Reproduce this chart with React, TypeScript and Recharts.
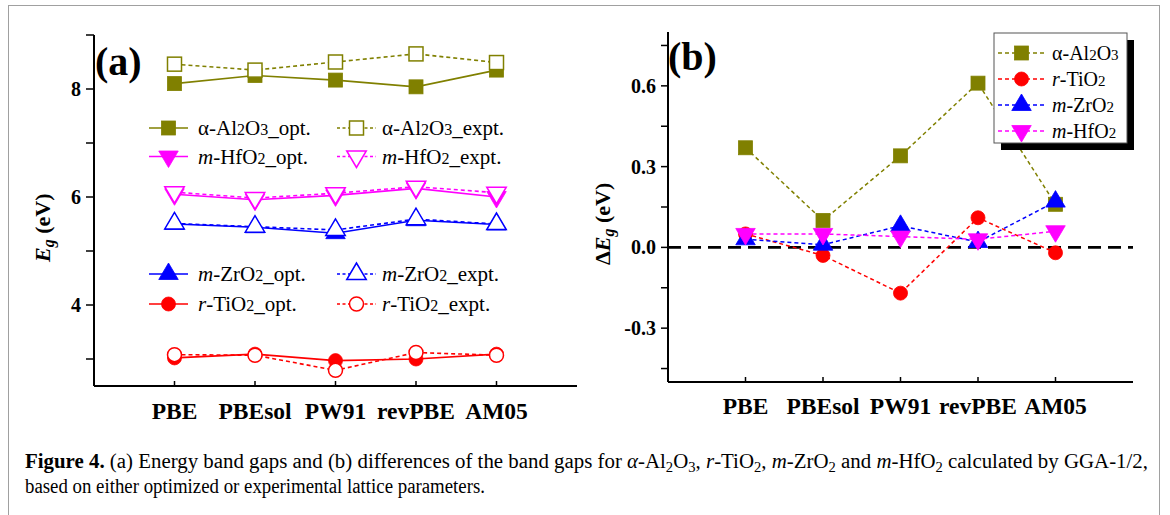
import React from 'react';
import { LineChart, Line, XAxis, YAxis, ReferenceLine, Legend } from 'recharts';

const FONT = '"Liberation Serif", "Times New Roman", serif';
const OLIVE = '#808000';
const MAGENTA = '#ff00ff';
const BLUE = '#0000ff';
const RED = '#ff0000';

// ---------- data ----------
const categories = ['PBE', 'PBEsol', 'PW91', 'revPBE', 'AM05'];
const xPositions = [1, 2, 3, 4, 5];

const al2o3Opt = [8.1, 8.25, 8.165, 8.04, 8.35];
const al2o3Expt = [8.46, 8.35, 8.5, 8.65, 8.49];
const hfo2Opt = [6.05, 5.95, 6.03, 6.16, 6.0];
const hfo2Expt = [6.09, 5.98, 6.07, 6.19, 6.08];
const zro2Opt = [5.5, 5.44, 5.33, 5.57, 5.49];
const zro2Expt = [5.51, 5.45, 5.39, 5.59, 5.5];
const tio2Opt = [3.02, 3.09, 2.97, 3.0, 3.09];
const tio2Expt = [3.08, 3.07, 2.79, 3.12, 3.07];

const dAl2o3 = [0.37, 0.1, 0.34, 0.61, 0.16];
const dTio2 = [0.05, -0.03, -0.17, 0.11, -0.02];
const dZro2 = [0.03, 0.01, 0.08, 0.02, 0.17];
const dHfo2 = [0.05, 0.05, 0.04, 0.03, 0.06];

const egTicks = [3, 4, 5, 6, 7, 8, 9];
const egLabelTicks = [4, 6, 8];
const dTicks = [-0.45, -0.3, -0.15, 0, 0.15, 0.3, 0.45, 0.6, 0.75];
const dLabelTicks = [-0.3, 0, 0.3, 0.6];

const dataA = xPositions.map((x, i) => ({
  x,
  alOpt: al2o3Opt[i],
  alExpt: al2o3Expt[i],
  hfOpt: hfo2Opt[i],
  hfExpt: hfo2Expt[i],
  zrOpt: zro2Opt[i],
  zrExpt: zro2Expt[i],
  tiOpt: tio2Opt[i],
  tiExpt: tio2Expt[i],
}));

const dataB = xPositions.map((x, i) => ({
  x,
  al: dAl2o3[i],
  ti: dTio2[i],
  zr: dZro2[i],
  hf: dHfo2[i],
}));

// ---------- markers ----------
type Shape = 'square' | 'circle' | 'up' | 'down';

function Marker({ shape, cx, cy, color, filled }: { shape: Shape; cx: number; cy: number; color: string; filled: boolean }) {
  const fill = filled ? color : '#ffffff';
  const sw = filled ? 0.8 : 1.5;
  if (shape === 'square') {
    const s = 14;
    return <rect x={cx - s / 2} y={cy - s / 2} width={s} height={s} fill={fill} stroke={color} strokeWidth={sw} />;
  }
  if (shape === 'circle') {
    return <circle cx={cx} cy={cy} r={7} fill={fill} stroke={color} strokeWidth={sw} />;
  }
  const w = 19.5;
  const h = 16.5;
  const pts =
    shape === 'up'
      ? `${cx},${cy - (2 * h) / 3} ${cx - w / 2},${cy + h / 3} ${cx + w / 2},${cy + h / 3}`
      : `${cx},${cy + (2 * h) / 3} ${cx - w / 2},${cy - h / 3} ${cx + w / 2},${cy - h / 3}`;
  return <polygon points={pts} fill={fill} stroke={color} strokeWidth={sw} />;
}

const dotOf = (shape: Shape, color: string, filled: boolean) => (p: any) => {
  if (p == null || p.cx == null || p.cy == null) return <g key={`e-${p && p.index}`} />;
  return <Marker key={`m-${p.index}`} shape={shape} cx={p.cx} cy={p.cy} color={color} filled={filled} />;
};

// ---------- text helpers ----------
type Seg = { t: string; it?: boolean; sub?: boolean; b?: boolean };

function renderSegs(segs: Seg[], subSize: number, shift: number) {
  let cur = 0;
  return segs.map((s, i) => {
    const target = s.sub ? shift : 0;
    const dy = target - cur;
    cur = target;
    return (
      <tspan
        key={i}
        dy={dy !== 0 ? dy : undefined}
        fontSize={s.sub ? subSize : undefined}
        fontStyle={s.it ? 'italic' : undefined}
        fontWeight={s.b ? 'bold' : undefined}
      >
        {s.t}
      </tspan>
    );
  });
}

const AL: Seg[] = [{ t: 'α' }, { t: '-Al' }, { t: '2', sub: true }, { t: 'O' }, { t: '3', sub: true }];
const TI: Seg[] = [{ t: 'r', it: true }, { t: '-TiO' }, { t: '2', sub: true }];
const ZR: Seg[] = [{ t: 'm', it: true }, { t: '-ZrO' }, { t: '2', sub: true }];
const HF: Seg[] = [{ t: 'm', it: true }, { t: '-HfO' }, { t: '2', sub: true }];

// ---------- series configs ----------
const seriesA = [
  { key: 'alOpt', color: OLIVE, shape: 'square' as Shape, filled: true, dashed: false, label: AL, suffix: '_opt.' },
  { key: 'alExpt', color: OLIVE, shape: 'square' as Shape, filled: false, dashed: true, label: AL, suffix: '_expt.' },
  { key: 'hfOpt', color: MAGENTA, shape: 'down' as Shape, filled: true, dashed: false, label: HF, suffix: '_opt.' },
  { key: 'hfExpt', color: MAGENTA, shape: 'down' as Shape, filled: false, dashed: true, label: HF, suffix: '_expt.' },
  { key: 'zrOpt', color: BLUE, shape: 'up' as Shape, filled: true, dashed: false, label: ZR, suffix: '_opt.' },
  { key: 'zrExpt', color: BLUE, shape: 'up' as Shape, filled: false, dashed: true, label: ZR, suffix: '_expt.' },
  { key: 'tiOpt', color: RED, shape: 'circle' as Shape, filled: true, dashed: false, label: TI, suffix: '_opt.' },
  { key: 'tiExpt', color: RED, shape: 'circle' as Shape, filled: false, dashed: true, label: TI, suffix: '_expt.' },
];

const seriesB = [
  { key: 'al', color: OLIVE, shape: 'square' as Shape, label: AL },
  { key: 'ti', color: RED, shape: 'circle' as Shape, label: TI },
  { key: 'zr', color: BLUE, shape: 'up' as Shape, label: ZR },
  { key: 'hf', color: MAGENTA, shape: 'down' as Shape, label: HF },
];

// ---------- legends ----------
const legendARows = [128, 156.5, 274, 304];
const legendACols = [149, 337];
const legendATextX = [198, 382];

function LegendA() {
  return (
    <svg width={600} height={440} style={{ position: 'absolute', left: 0, top: 0, overflow: 'visible' }}>
      {seriesA.map((s, i) => {
        const row = legendARows[Math.floor(i / 2)];
        const col = i % 2;
        const x0 = legendACols[col];
        const x1 = x0 + 39;
        const mx = (x0 + x1) / 2;
        return (
          <g key={s.key}>
            <line x1={x0} x2={x1} y1={row} y2={row} stroke={s.color} strokeWidth={1.6} strokeDasharray={s.dashed ? '3 2.5' : undefined} />
            <Marker shape={s.shape} cx={mx} cy={row} color={s.color} filled={s.filled} />
            <text x={legendATextX[col]} y={row + 7} fontFamily={FONT} fontSize={21} fill="#000" style={{ whiteSpace: 'pre' }}>
              {renderSegs([...s.label, { t: s.suffix }], 16, 0)}
            </text>
          </g>
        );
      })}
    </svg>
  );
}

const legendBRows = [53, 79, 105, 131];

function LegendB() {
  // coordinates in chart (b) space (chart left = page x 600)
  const bx = 394;
  const by = 33;
  const bw = 133;
  const bh = 110;
  return (
    <svg width={570} height={440} style={{ position: 'absolute', left: 0, top: 0, overflow: 'visible' }}>
      <rect x={bx + 7} y={by + 7} width={bw} height={bh} fill="#000" />
      <rect x={bx} y={by} width={bw} height={bh} fill="#fff" stroke="#555" strokeWidth={1} />
      {seriesB.map((s, i) => {
        const y = legendBRows[i];
        return (
          <g key={s.key}>
            <line x1={398} x2={445} y1={y} y2={y} stroke={s.color} strokeWidth={1.5} strokeDasharray="4 3" />
            <Marker shape={s.shape} cx={421.5} cy={y} color={s.color} filled />
            <text x={452} y={y + 6.8} fontFamily={FONT} fontSize={20} fill="#000" style={{ whiteSpace: 'pre' }}>
              {renderSegs(s.label, 15, 0)}
            </text>
          </g>
        );
      })}
    </svg>
  );
}

// ---------- axis styles ----------
const axisLineStyle = { stroke: '#000', strokeWidth: 2 };
const tickLineStyle = { stroke: '#000', strokeWidth: 1.5 };
const xTickStyle = { fill: '#000', fontSize: 23.5, fontWeight: 700, fontFamily: FONT };
const yTickStyle = { fill: '#000', fontSize: 20, fontWeight: 700, fontFamily: FONT };

const catFormatter = (v: number) => categories[v - 1] ?? '';
const blank = () => '';

function ChartA() {
  return (
    <LineChart width={600} height={440} data={dataA} margin={{ top: 35, right: 23, bottom: 14, left: 34 }}>
      <XAxis
        dataKey="x"
        type="number"
        domain={[0, 6]}
        ticks={xPositions}
        interval={0}
        allowDataOverflow
        height={40}
        tickFormatter={catFormatter}
        tick={xTickStyle}
        tickSize={-5}
        tickMargin={21}
        axisLine={axisLineStyle}
        tickLine={tickLineStyle}
      />
      <XAxis
        xAxisId="top"
        orientation="top"
        dataKey="x"
        type="number"
        domain={[0, 6]}
        ticks={xPositions}
        interval={0}
        allowDataOverflow
        height={0}
        tickFormatter={blank}
        tickSize={-5}
        axisLine={axisLineStyle}
        tickLine={tickLineStyle}
      />
      <YAxis
        type="number"
        domain={[2.5, 9]}
        ticks={egTicks}
        interval={0}
        allowDataOverflow
        width={60}
        tickFormatter={(v: number) => (egLabelTicks.includes(v) ? String(v) : '')}
        tick={yTickStyle}
        tickSize={8}
        tickMargin={5}
        axisLine={axisLineStyle}
        tickLine={tickLineStyle}
      />
      <YAxis
        yAxisId="right"
        orientation="right"
        type="number"
        domain={[2.5, 9]}
        ticks={egTicks}
        interval={0}
        allowDataOverflow
        width={0}
        tickFormatter={blank}
        tickSize={-5}
        axisLine={axisLineStyle}
        tickLine={tickLineStyle}
      />
      {seriesA.map((s) => (
        <Line
          key={s.key}
          dataKey={s.key}
          type="linear"
          stroke={s.color}
          strokeWidth={1.6}
          strokeDasharray={s.dashed ? '4 3' : undefined}
          dot={dotOf(s.shape, s.color, s.filled)}
          activeDot={false}
          isAnimationActive={false}
        />
      ))}
      <Legend
        layout="vertical"
        align="center"
        verticalAlign="middle"
        wrapperStyle={{ left: 0, top: 0, width: 600, height: 440, pointerEvents: 'none' }}
        content={() => <LegendA />}
      />
    </LineChart>
  );
}

function ChartB() {
  return (
    <LineChart width={570} height={440} data={dataB} margin={{ top: 32, right: 37, bottom: 18, left: 8 }}>
      <XAxis
        dataKey="x"
        type="number"
        domain={[0, 6]}
        ticks={xPositions}
        interval={0}
        allowDataOverflow
        height={40}
        tickFormatter={catFormatter}
        tick={xTickStyle}
        tickSize={-5}
        tickMargin={20}
        axisLine={axisLineStyle}
        tickLine={tickLineStyle}
      />
      <XAxis
        xAxisId="top"
        orientation="top"
        dataKey="x"
        type="number"
        domain={[0, 6]}
        ticks={xPositions}
        interval={0}
        allowDataOverflow
        height={0}
        tickFormatter={blank}
        tickSize={-5}
        axisLine={axisLineStyle}
        tickLine={tickLineStyle}
      />
      <YAxis
        type="number"
        domain={[-0.5, 0.8]}
        ticks={dTicks}
        interval={0}
        allowDataOverflow
        width={60}
        tickFormatter={(v: number) => (dLabelTicks.some((t) => Math.abs(t - v) < 1e-9) ? v.toFixed(1) : '')}
        tick={yTickStyle}
        tickSize={7}
        tickMargin={5}
        axisLine={axisLineStyle}
        tickLine={tickLineStyle}
      />
      <YAxis
        yAxisId="right"
        orientation="right"
        type="number"
        domain={[-0.5, 0.8]}
        ticks={dTicks}
        interval={0}
        allowDataOverflow
        width={0}
        tickFormatter={blank}
        tickSize={-5}
        axisLine={axisLineStyle}
        tickLine={tickLineStyle}
      />
      <ReferenceLine y={0} stroke="#000" strokeWidth={2.6} strokeDasharray="13 7" />
      {seriesB.map((s) => (
        <Line
          key={s.key}
          dataKey={s.key}
          type="linear"
          stroke={s.color}
          strokeWidth={1.5}
          strokeDasharray="4 3"
          dot={dotOf(s.shape, s.color, true)}
          activeDot={false}
          isAnimationActive={false}
        />
      ))}
      <Legend
        layout="vertical"
        align="center"
        verticalAlign="middle"
        wrapperStyle={{ left: 0, top: 0, width: 570, height: 440, pointerEvents: 'none' }}
        content={() => <LegendB />}
      />
    </LineChart>
  );
}

const captionLine1: Seg[] = [
  { t: 'Figure 4.', b: true },
  { t: ' (a) Energy band gaps and (b) differences of the band gaps for ' },
  { t: 'α', it: true },
  { t: '-Al' },
  { t: '2', sub: true },
  { t: 'O' },
  { t: '3', sub: true },
  { t: ', ' },
  { t: 'r', it: true },
  { t: '-TiO' },
  { t: '2', sub: true },
  { t: ', ' },
  { t: 'm', it: true },
  { t: '-ZrO' },
  { t: '2', sub: true },
  { t: ' and ' },
  { t: 'm', it: true },
  { t: '-HfO' },
  { t: '2', sub: true },
  { t: ' calculated by GGA-1/2,' },
];
const captionLine2: Seg[] = [{ t: 'based on either optimized or experimental lattice parameters.' }];

export default function App() {
  return (
    <div style={{ position: 'fixed', left: 0, top: 0, width: 1170, height: 515, background: '#fff', overflow: 'hidden', fontFamily: FONT }}>
      <div style={{ position: 'absolute', left: 8, top: 5, width: 1150, height: 540, border: '1.5px solid #a0a0a0' }} />
      <div style={{ position: 'absolute', left: 0, top: 0, width: 600, height: 440 }}>
        <ChartA />
      </div>
      <div style={{ position: 'absolute', left: 600, top: 0, width: 570, height: 440 }}>
        <ChartB />
      </div>
      <svg width={1170} height={515} style={{ position: 'absolute', left: 0, top: 0, pointerEvents: 'none' }}>
        <text x={95} y={74.5} fontFamily={FONT} fontSize={40} fontWeight="bold" fill="#000">(a)</text>
        <text x={668} y={69.5} fontFamily={FONT} fontSize={40} fontWeight="bold" fill="#000">(b)</text>
        <text x={50} y={262} transform="rotate(-90 50 262)" fontFamily={FONT} fontSize={22} fontWeight="bold" fill="#000" style={{ whiteSpace: 'pre' }}>
          {renderSegs([{ t: 'E', it: true }, { t: 'g', it: true, sub: true }, { t: ' (eV)' }], 16, 4)}
        </text>
        <text x={610} y={265} transform="rotate(-90 610 265)" fontFamily={FONT} fontSize={22} fontWeight="bold" fill="#000" style={{ whiteSpace: 'pre' }}>
          {renderSegs([{ t: 'Δ' }, { t: 'E', it: true }, { t: 'g', it: true, sub: true }, { t: ' (eV)' }], 16, 4)}
        </text>
        <text x={25} y={468} fontFamily={FONT} fontSize={20} fill="#000" textLength={1123} lengthAdjust="spacingAndGlyphs" style={{ whiteSpace: 'pre' }}>
          {renderSegs(captionLine1, 14, 4)}
        </text>
        <text x={25} y={493} fontFamily={FONT} fontSize={20} fill="#000" textLength={460} lengthAdjust="spacingAndGlyphs" style={{ whiteSpace: 'pre' }}>
          {renderSegs(captionLine2, 14, 4)}
        </text>
      </svg>
    </div>
  );
}
